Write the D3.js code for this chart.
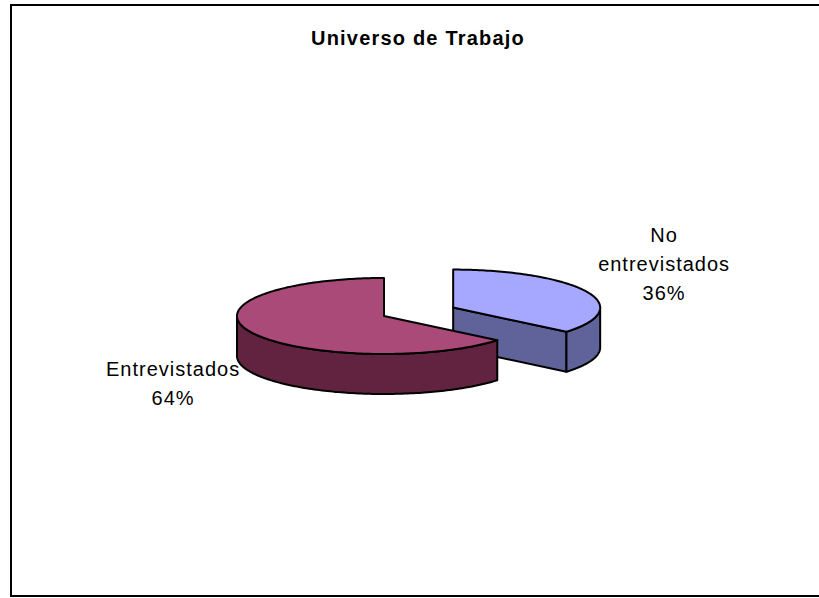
<!DOCTYPE html>
<html>
<head>
<meta charset="utf-8">
<script src="https://cdn.jsdelivr.net/npm/d3@7"></script>
<style>
  body { margin: 0; background: #fff; }
  svg { display: block; }
  text { font-family: "Liberation Sans", Arial, sans-serif; fill: #000; }
</style>
</head>
<body>
<svg id="chart" width="819" height="598"></svg>
<script>
// data
const title = "Universo de Trabajo";
const categories = ["No entrevistados", "Entrevistados"];
const values = [36, 64];
const topColors = ["#a6a8ff", "#aa4a78"];
const sideColors = ["#60629a", "#622340"];
const explode = [0.52, 0];

// 3d pie geometry
const cx = 384, cy = 316, rx = 147, ry = 38, depth = 40;
const labelK = 1.586, labelKy = 2.69;

const svg = d3.select("#chart");

// frame
svg.append("rect")
  .attr("x", 11).attr("y", 5)
  .attr("width", 815).attr("height", 591)
  .attr("fill", "#fff")
  .attr("stroke", "#000")
  .attr("stroke-width", 2);

svg.append("text")
  .attr("x", 418).attr("y", 45)
  .attr("text-anchor", "middle")
  .attr("font-size", 20)
  .attr("font-weight", "bold")
  .attr("letter-spacing", 1.2)
  .text(title);

const total = d3.sum(values);
const arcs = d3.pie().sort(null).value(d => d)(values);

const pt = (c, a, h) => [c.x + rx * Math.sin(a), c.y - ry * Math.cos(a) + h];
const sample = (a0, a1, c, h) => {
  const n = Math.max(2, Math.ceil(Math.abs(a1 - a0) / 0.02));
  return d3.range(n + 1).map(i => pt(c, a0 + (a1 - a0) * i / n, h));
};
const line = d3.line();

const slices = arcs.map((d, i) => {
  const mid = (d.startAngle + d.endAngle) / 2;
  const e = explode[i];
  const c = { x: cx + e * rx * Math.sin(mid), y: cy - e * ry * Math.cos(mid) };
  return { i, a0: d.startAngle, a1: d.endAngle, mid, c };
});

const g = svg.append("g")
  .attr("stroke", "#000")
  .attr("stroke-width", 2)
  .attr("stroke-linejoin", "round");

// back slices first
slices.slice().sort((a, b) => a.c.y - b.c.y).forEach(s => {
  const { c, a0, a1, i } = s;
  const center = [c.x, c.y];

  // radial walls facing the viewer
  const walls = [];
  if (Math.sin(a0) < -1e-6) walls.push(a0);
  if (Math.sin(a1) > 1e-6) walls.push(a1);
  walls.forEach(a => {
    const p = pt(c, a, 0), q = pt(c, a, depth);
    g.append("path")
      .attr("d", line([center, p, q, [c.x, c.y + depth]]) + "Z")
      .attr("fill", sideColors[i]);
  });

  // outer wall, front half only
  const lo = Math.max(a0, Math.PI / 2), hi = Math.min(a1, 3 * Math.PI / 2);
  if (lo < hi) {
    const pts = sample(lo, hi, c, 0).concat(sample(hi, lo, c, depth));
    g.append("path")
      .attr("d", line(pts) + "Z")
      .attr("fill", sideColors[i]);
  }

  // top face
  g.append("path")
    .attr("d", line([center].concat(sample(a0, a1, c, 0))) + "Z")
    .attr("fill", topColors[i]);
});

// labels
slices.forEach(s => {
  const pct = Math.round(values[s.i] / total * 100) + "%";
  const lines = categories[s.i].split(" ").concat([pct]);
  const x = s.c.x + rx * labelK * Math.sin(s.mid);
  const yc = s.c.y - ry * labelKy * Math.cos(s.mid) + (Math.cos(s.mid) < 0 ? depth * 0.6 : 0);
  const lh = 29;
  const t = svg.append("text")
    .attr("text-anchor", "middle")
    .attr("font-size", 20)
    .attr("letter-spacing", 1);
  lines.forEach((l, k) => {
    t.append("tspan")
      .attr("x", x)
      .attr("y", yc + (k - (lines.length - 1) / 2) * lh + 7)
      .text(l);
  });
});
</script>
</body>
</html>
